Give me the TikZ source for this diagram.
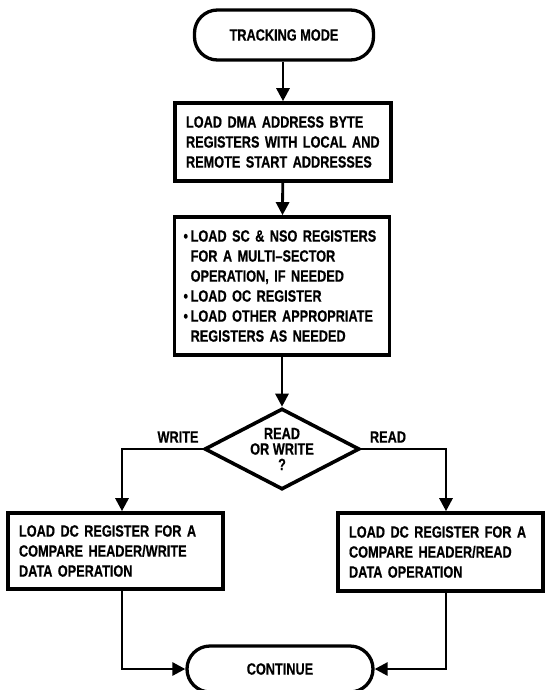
\documentclass[tikz,border=0pt]{standalone}
\usepackage{fontspec}
\setmainfont{Liberation Sans}[FakeStretch=0.78, BoldFeatures={FakeBold=0.5}]
\usetikzlibrary{arrows.meta,shapes.geometric}
\tikzset{
  txt/.style={font=\bfseries\fontsize{16.3}{20}\selectfont},
  term/.style={draw, line width=3.3pt, rounded corners=23pt, inner sep=0pt, txt},
  procbox/.style={draw, line width=3.6pt, inner sep=0pt, inner xsep=11pt, align=left, txt},
  decision/.style={draw, diamond, line width=3.6pt, inner sep=0pt, aspect=1.9,
    minimum width=155pt, minimum height=81pt, align=center,
    font=\bfseries\fontsize{16.3}{15.5}\selectfont},
  conn/.style={line width=2.8pt, -{Triangle[width=13pt,length=13pt]}},
  lbl/.style={txt, inner sep=0pt}
}
\begin{document}
\begin{tikzpicture}[x=1pt,y=-1pt]
\useasboundingbox (0,0) rectangle (544,690);
\node[term, minimum width=179pt, minimum height=50pt] (start) at (284,35) {TRACKING MODE};
\node[procbox, minimum width=216pt, minimum height=78pt, text width=194pt] (b1) at (283,142)
  {LOAD DMA ADDRESS BYTE\\REGISTERS WITH LOCAL AND\\REMOTE START ADDRESSES};
\node[procbox, inner xsep=9pt, minimum width=215pt, minimum height=138pt, text width=197pt] (b2) at (282,286)
  {\textbullet\,LOAD SC \& NSO REGISTERS\\
   \phantom{\textbullet\,}FOR A MULTI--SECTOR\\
   \phantom{\textbullet\,}OPERATION, IF NEEDED\\
   \textbullet\,LOAD OC REGISTER\\
   \textbullet\,LOAD OTHER APPROPRIATE\\
   \phantom{\textbullet\,}REGISTERS AS NEEDED};
\node[decision] (dec) at (282,449) {READ\\OR WRITE\\?};
\node[procbox, minimum width=215pt, minimum height=76pt, text width=193pt] (wbox) at (115.5,551)
  {LOAD DC REGISTER FOR A\\COMPARE HEADER/WRITE\\DATA OPERATION};
\node[procbox, minimum width=205pt, minimum height=78pt, text width=183pt] (rbox) at (440.5,552)
  {LOAD DC REGISTER FOR A\\COMPARE HEADER/READ\\DATA OPERATION};
\node[term, minimum width=186pt, minimum height=46pt] (cont) at (280,669) {CONTINUE};
\node[lbl] (wl) at (178,437) {WRITE};
\node[lbl] (rl) at (388,437) {READ};
\draw[conn] (start.south -| b1.north) -- (b1.north);
\draw[conn] (b1) -- (b2);
\draw[conn] (b2.south) -- (b2.south |- dec.north);
\draw[conn] (dec.west) -| ([xshift=6.5pt]wbox.north);
\draw[conn] (dec.east) -| ([xshift=5.5pt]rbox.north);
\draw[conn] ([xshift=6.5pt]wbox.south) |- (cont.west);
\draw[conn] ([xshift=5.5pt]rbox.south) |- (cont.east);
\end{tikzpicture}
\end{document}
